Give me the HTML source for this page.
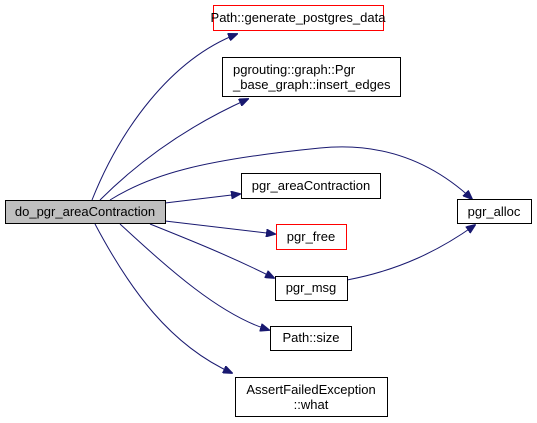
<!DOCTYPE html>
<html><head><style>
body{margin:0;background:#fff;width:537px;height:423px;overflow:hidden}
svg{display:block}
text{font-family:"Liberation Sans",sans-serif;font-size:13px;fill:#000}
</style></head><body>
<svg width="537" height="423" viewBox="0 0 537 423">
<defs><marker id="a" markerWidth="10" markerHeight="8" refX="9" refY="4" orient="auto" markerUnits="userSpaceOnUse"><path d="M0,0 L10,4 L0,8 z" fill="#191970" stroke="#191970"/></marker></defs>
<g fill="none" stroke="#191970" stroke-width="1" marker-end="url(#a)">
<path d="M92,200 C120,130 170,60 237,34"/>
<path d="M100,200 C140,160 190,125 248,99"/>
<path d="M110,200 C150,175 200,160 320,148 C380,142 430,160 472,199"/>
<path d="M165,203 L240,194"/>
<path d="M165,221 L275,234"/>
<path d="M150,224 C190,240 230,256 274,278"/>
<path d="M120,224 C170,270 220,315 269,330"/>
<path d="M95,224 C130,290 170,345 232,373"/>
<path d="M347,280 C400,270 440,250 475,225"/>
</g>
<rect x="5.5" y="200.5" width="160" height="23" fill="#bfbfbf" stroke="#000"/>
<text x="85" y="216" text-anchor="middle">do_pgr_areaContraction</text>
<rect x="213.5" y="5.5" width="170" height="25" fill="#fff" stroke="#f00"/>
<text x="298" y="22" text-anchor="middle">Path::generate_postgres_data</text>
<rect x="222.5" y="57.5" width="178" height="39" fill="#fff" stroke="#000"/>
<text x="233" y="74">pgrouting::graph::Pgr</text>
<text x="233" y="89">_base_graph::insert_edges</text>
<rect x="241.5" y="173.5" width="139" height="25" fill="#fff" stroke="#000"/>
<text x="311" y="190" text-anchor="middle">pgr_areaContraction</text>
<rect x="276.5" y="224.5" width="70" height="25" fill="#fff" stroke="#f00"/>
<text x="311" y="241" text-anchor="middle">pgr_free</text>
<rect x="275.5" y="276.5" width="72" height="24" fill="#fff" stroke="#000"/>
<text x="311" y="292" text-anchor="middle">pgr_msg</text>
<rect x="270.5" y="326.5" width="81" height="24" fill="#fff" stroke="#000"/>
<text x="311" y="342" text-anchor="middle">Path::size</text>
<rect x="235.5" y="377.5" width="152" height="39" fill="#fff" stroke="#000"/>
<text x="311" y="394" text-anchor="middle">AssertFailedException</text>
<text x="311" y="409" text-anchor="middle">::what</text>
<rect x="457.5" y="199.5" width="74" height="24" fill="#fff" stroke="#000"/>
<text x="494" y="216" text-anchor="middle">pgr_alloc</text>
</svg>
</body></html>
